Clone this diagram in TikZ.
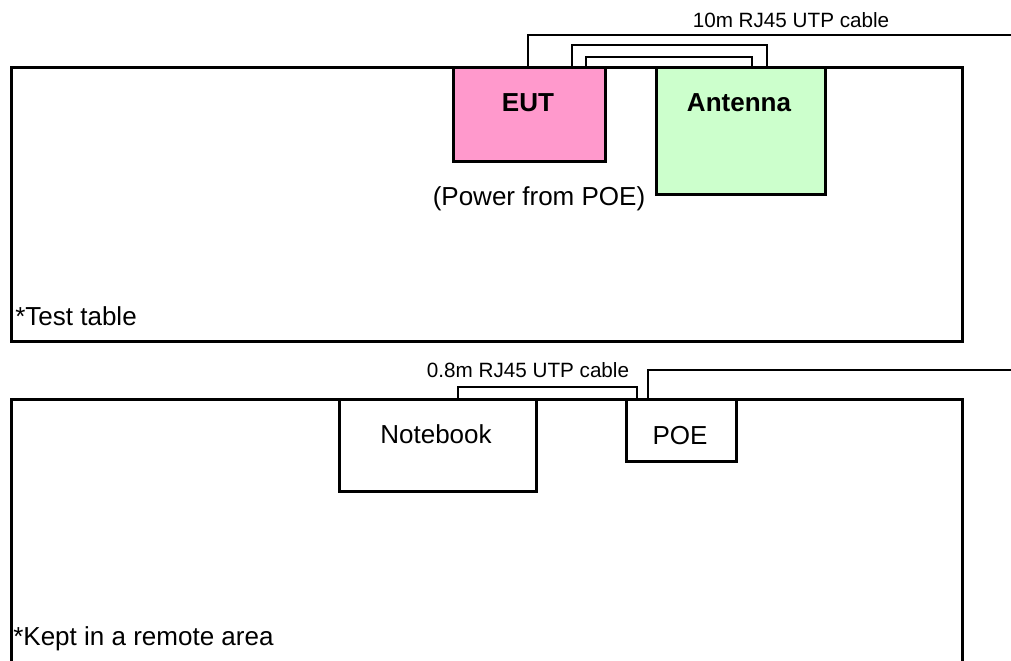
\documentclass[tikz,border=0pt]{standalone}
\usepackage{fontspec}
\setmainfont{Liberation Sans}
\usepackage{xcolor}
\usetikzlibrary{positioning, calc}

\definecolor{eutpink}{HTML}{FF99CC}
\definecolor{antgreen}{HTML}{CCFFCC}

\tikzset{
  areabox/.style={draw, line width=2.2pt, inner sep=0pt, anchor=north west},
  devbox/.style={draw, line width=2.2pt, inner sep=0pt, anchor=north west},
  cable/.style={line width=2.1pt},
  lbl/.style={font=\fontsize{18.5}{22}\selectfont, inner sep=0pt},
  blbl/.style={font=\fontsize{18.5}{22}\selectfont\bfseries, inner sep=0pt, anchor=base},
  clbl/.style={font=\fontsize{14.7}{17}\selectfont, inner sep=0pt, anchor=base}
}

\begin{document}
\begin{tikzpicture}[x=0.025cm, y=0.025cm]
  % 1 unit = 1 px of the 1011x660 sheet, y runs down as negative
  \useasboundingbox (0,0) rectangle (1011,-660);

  % test table (top) and remote area (bottom, runs off the sheet)
  \node[areabox, minimum width=23.775cm, minimum height=6.85cm] (tt) at (10,-66) {};
  \node[areabox, minimum width=23.775cm, minimum height=7.5cm] (ra) at (10,-398) {};

  % devices on the test table
  \node[devbox, fill=eutpink, minimum width=3.8cm, minimum height=2.35cm] (eut) at (452,-66) {};
  \node[devbox, fill=antgreen, minimum width=4.225cm, minimum height=3.175cm] (ant) at (655,-66) {};
  \node[blbl] (eutlbl) at ($(eut.north west)+(76,-45)$) {EUT};
  \node[blbl] (antlbl) at ($(ant.north west)+(84,-45)$) {Antenna};
  \node[lbl, anchor=base] (pwr) at (539,-205) {(Power from POE)};

  % devices in the remote area
  \node[devbox, minimum width=4.925cm, minimum height=2.3cm] (nb) at (338,-398) {};
  \node[devbox, minimum width=2.75cm, minimum height=1.55cm] (poe) at (625,-398) {};
  \node[lbl, anchor=base] (nblbl) at ($(nb.north west)+(98,-45)$) {Notebook};
  \node[lbl, anchor=base] (poelbl) at ($(poe.north west)+(55,-46)$) {POE};

  % table captions
  \node[lbl, anchor=base west] (ttlbl) at (15,-325) {*Test table};
  \node[lbl, anchor=base west] (ralbl) at (13,-645) {*Kept in a remote area};

  % cables
  \coordinate (c10m) at (1015,-35);
  \coordinate (cpoe) at (1015,-370);
  \draw[cable] ($(eut.north west)+(76,0)$) |- (c10m);
  \draw[cable] ($(eut.north west)+(120,0)$) -- ++(0,21) -| ($(ant.north west)+(112,0)$);
  \draw[cable] ($(eut.north west)+(134,0)$) -- ++(0,9) -| ($(ant.north west)+(97,0)$);
  \draw[cable] ($(nb.north west)+(120,0)$) -- ++(0,11) -| ($(poe.north west)+(12,0)$);
  \draw[cable] ($(poe.north west)+(23,0)$) |- (cpoe);

  % cable captions
  \node[clbl] (l10m) at (791,-27) {10m RJ45 UTP cable};
  \node[clbl] (l08m) at (528,-377) {0.8m RJ45 UTP cable};
\end{tikzpicture}
\end{document}
